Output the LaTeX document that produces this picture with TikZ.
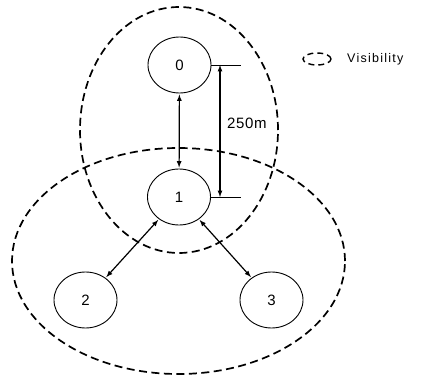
\documentclass[tikz,border=0pt]{standalone}
\usepackage{fontspec}
\setmainfont{Liberation Sans}
\usetikzlibrary{shapes.geometric}

\tikzset{
  station/.style={draw, ellipse, line width=0.9pt, minimum width=63pt, minimum height=56pt, inner sep=0pt, font=\fontsize{15}{17}\selectfont},
  visrange/.style={line width=1.7pt, dash pattern=on 8pt off 4.5pt},
  link/.style={<->, >=latex, line width=1.2pt, shorten <=1pt, shorten >=1pt}
}

\begin{document}
\begin{tikzpicture}[x=1pt, y=-1pt]
	  \useasboundingbox (0,0) rectangle (422,377);
	  % visibility ranges
	  \draw[visrange](179,130) ellipse [x radius=99pt, y radius=123pt];
	  \draw[visrange](178.5,261) ellipse [x radius=166.5pt, y radius=113pt];
	  \foreach \i / \x / \y in {0/179.5/65,1/179/197,2/85.5/300,3/271.5/300}
	  {
		\draw(\x, \y) node[station, fill=white](n\i) {\i};
	  }
	  \draw[link](n0) -- (n1);
	  \draw[link](n1) -- (n2);
	  \draw[link](n1) -- (n3);
	  % distance
	  \coordinate (t0) at (241, 65);
	  \coordinate (t1) at (241, 197);
	  \coordinate (d0) at (220, 65);
	  \coordinate (d1) at (220, 197);
	  \draw[line width=0.9pt](n0.east) -- (t0);
	  \draw[line width=0.9pt](n1.east) -- (t1);
	  \draw[<->,>=latex,line width=1.2pt](d0) -- (d1);
	  \draw(227, 123) node[anchor=west, inner sep=0pt, font=\fontsize{15}{17}\selectfont\addfontfeatures{LetterSpace=4}](dist) {250m};
	  % legend
	  \draw[visrange, line width=1.4pt, dash pattern=on 6pt off 4pt](317, 59) ellipse [x radius=14pt, y radius=6pt];
	  \draw(347, 59) node[anchor=west, inner sep=0pt, font=\fontsize{12.5}{14}\selectfont\addfontfeatures{LetterSpace=10}](leg) {Visibility};
	\end{tikzpicture}
\end{document}
